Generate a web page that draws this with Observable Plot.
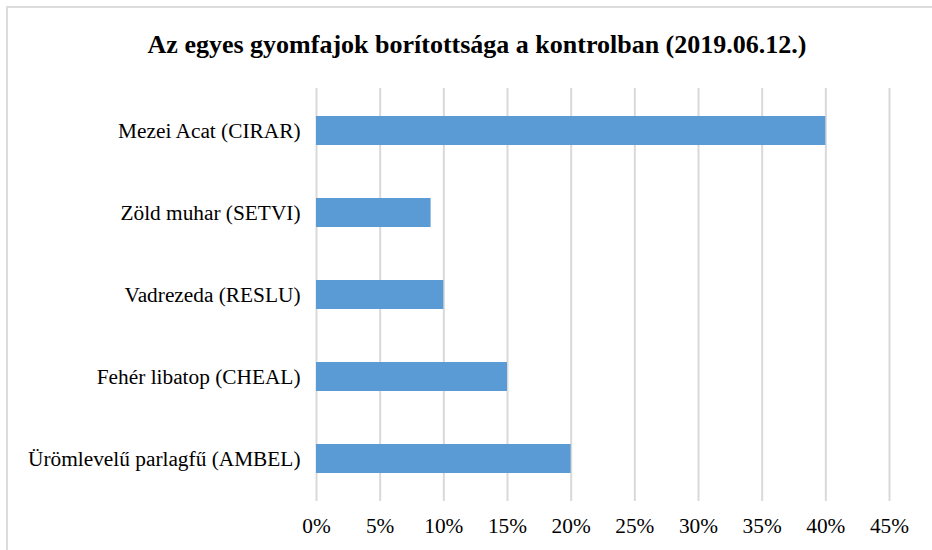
<!DOCTYPE html>
<html>
<head>
<meta charset="utf-8">
<script src="https://cdn.jsdelivr.net/npm/d3@7"></script>
<script src="https://cdn.jsdelivr.net/npm/@observablehq/plot@0.6"></script>
<style>
  html, body { margin: 0; padding: 0; background: #fff; overflow: hidden; }
  #frame { position: absolute; left: 6px; top: 6px; width: 960px; height: 580px; border: 2px solid #dcdcdc; box-sizing: border-box; }
  #title { position: absolute; left: 0; top: 29px; width: 954px; text-align: center; font-family: "Liberation Serif", "Times New Roman", serif; font-weight: bold; font-size: 26px; line-height: 32px; color: #000; }
  #chart { position: absolute; left: 0; top: 70px; }
  #chart svg text { font-family: "Liberation Serif", "Times New Roman", serif !important; }
</style>
</head>
<body>
<div id="frame"></div>
<div id="title">Az egyes gyomfajok borítottsága a kontrolban (2019.06.12.)</div>
<div id="chart"></div>
<script>
const species = ["Mezei Acat (CIRAR)", "Zöld muhar (SETVI)", "Vadrezeda (RESLU)", "Fehér libatop (CHEAL)", "Ürömlevelű parlagfű (AMBEL)"];
const coverage = [0.40, 0.09, 0.10, 0.15, 0.20];
const tickValues = [0, 0.05, 0.10, 0.15, 0.20, 0.25, 0.30, 0.35, 0.40, 0.45];

const data = species.map((s, i) => ({species: s, value: coverage[i]}));
const pct = d => Math.round(d * 100) + "%";

const chart = Plot.plot({
  width: 932,
  height: 480,
  marginLeft: 316,
  marginRight: 43,
  marginTop: 18,
  marginBottom: 49,
  style: {fontFamily: "'Liberation Serif', 'Times New Roman', serif", fontSize: "21.33px", color: "#000", background: "transparent"},
  x: {domain: [0, 0.45], ticks: tickValues, tickFormat: pct, label: null},
  y: {domain: species, label: null, paddingInner: 0.65, paddingOuter: 0.325},
  marks: [
    Plot.gridX(tickValues, {stroke: "#d9d9d9", strokeOpacity: 1, strokeWidth: 2}),
    Plot.barX(data, {x: "value", y: "species", fill: "#5b9bd5"}),
    Plot.axisX({ticks: tickValues, tickSize: 0, tickPadding: 16, tickFormat: pct, label: null, fontSize: 21.33}),
    Plot.axisY({tickSize: 0, tickPadding: 16, label: null, fontSize: 21.33})
  ]
});
document.getElementById("chart").appendChild(chart);
</script>
</body>
</html>
